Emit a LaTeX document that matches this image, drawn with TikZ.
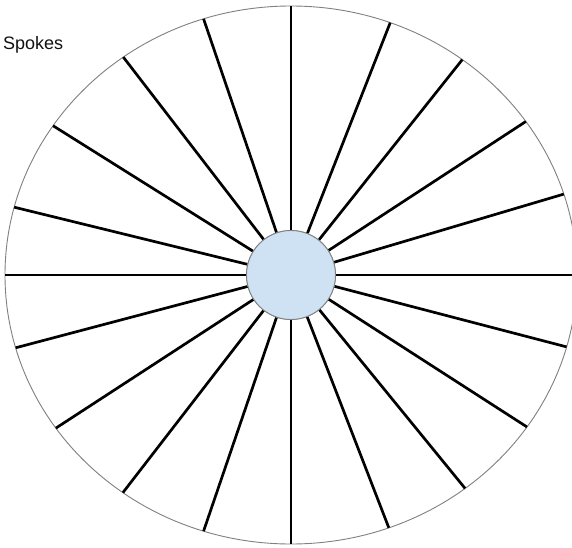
\documentclass[tikz,border=0pt]{standalone}
\usepackage{fontspec}
\setmainfont{Liberation Sans}
\definecolor{hubfill}{HTML}{CFE2F3}
\definecolor{rimgray}{HTML}{808080}
\definecolor{labelgray}{HTML}{111111}
\begin{document}
\begin{tikzpicture}[x=1pt,y=1pt,
  spoke/.style={line width=2.7pt, draw=black},
  rim/.style={draw=rimgray, line width=0.9pt, fill=white},
  hubstyle/.style={circle, draw=rimgray, line width=0.9pt, fill=hubfill, minimum size=89pt, inner sep=0pt},
  label/.style={anchor=base west, inner sep=0pt, text=labelgray, font=\fontsize{18}{21}\selectfont}]
\useasboundingbox (0,0) rectangle (572,547);
\clip (0,0) rectangle (572,547);
\fill[white] (0,0) rectangle (572,547);
\coordinate (c) at (291,272);
\draw[rim] (c) ellipse [x radius=286, y radius=269];
\node[hubstyle] (hub) at (c) {};
\foreach \a/\n in {90/1, 69.7/2, 53.2/3, 34.8/4, 17.5/5, 0/6, -15.5/7, -34.4/8, -52.5/9, -70/10,
                   -90/11, -107.8/12, -126/13, -145.3/14, -164.3/15, 180/16, 165.4/17, 146.3/18, 125.9/19, 107.8/20} {
  \path (c) ++(\a:286 and 269) coordinate (r\n);
  \draw[spoke] (hub) -- (r\n);
}
\node[hubstyle] (hubtop) at (c) {};
\node[label] (title) at (3,497) {Spokes};
\end{tikzpicture}
\end{document}
